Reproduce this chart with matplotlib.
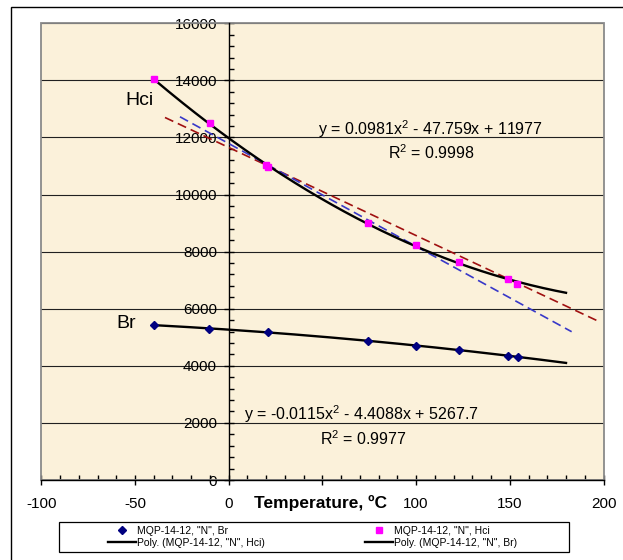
import numpy as np
import matplotlib
matplotlib.use("Agg")
import matplotlib.pyplot as plt
from matplotlib.patches import Rectangle
from matplotlib.lines import Line2D
from matplotlib.ticker import MultipleLocator

plt.rcParams['font.family'] = ['Liberation Sans', 'DejaVu Sans']
plt.rcParams['axes.unicode_minus'] = False
plt.rcParams['mathtext.fontset'] = 'custom'
plt.rcParams['mathtext.rm'] = 'Liberation Sans'
plt.rcParams['mathtext.it'] = 'Liberation Sans'
plt.rcParams['mathtext.default'] = 'regular'

# ---------------- data ----------------
temp_hci = [-40, -10, 20, 21, 74.5, 100, 123, 149, 154]
hci = [14045, 12490, 11040, 10960, 9000, 8250, 7640, 7030, 6870]

temp_br = [-40, -10.5, 21, 74.5, 100, 123, 149.3, 154.3]
br = [5420, 5280, 5170, 4870, 4705, 4545, 4355, 4320]

# polynomial trendline coefficients (from chart labels)
hci_poly = [0.0981, -47.759, 11977]
br_poly = [-0.0115, -4.4088, 5267.7]
fit_range = [-40, 180]

# dashed reference lines (end points)
red_x = [-34, 197]
red_y = [12700, 5570]
blue_x = [-26, 183]
blue_y = [12725, 5195]

x_ticks = [-100, -50, 0, 50, 100, 150, 200]
x_tick_labels = ['-100', '-50', '0', '', '100', '150', '200']
y_ticks = [0, 2000, 4000, 6000, 8000, 10000, 12000, 14000, 16000]
y_tick_labels = ['0', '2000', '4000', '6000', '8000', '10000', '12000', '14000', '16000']

eq_hci = r"y = 0.0981x$^{2}$ - 47.759x + 11977"
r2_hci = r"R$^{2}$ = 0.9998"
eq_br = r"y = -0.0115x$^{2}$ - 4.4088x + 5267.7"
r2_br = r"R$^{2}$ = 0.9977"

lbl_br = 'MQP-14-12, "N", Br'
lbl_hci = 'MQP-14-12, "N", Hci'
lbl_poly_hci = 'Poly. (MQP-14-12, "N", Hci)'
lbl_poly_br = 'Poly. (MQP-14-12, "N", Br)'

# ---------------- figure ----------------
W, H = 623, 560
fig = plt.figure(figsize=(W / 100, H / 100), dpi=100)
fig.patch.set_facecolor('white')

L, R, T, B = 41.3, 603.5, 23.3, 480.0
ax = fig.add_axes([L / W, 1 - B / H, (R - L) / W, (B - T) / H])
ax.set_facecolor('#FBF1DA')
ax.set_xlim(-100, 200)
ax.set_ylim(0, 16000)

ax.set_xticks(x_ticks)
ax.set_xticklabels(x_tick_labels)
ax.set_yticks(y_ticks)
ax.set_yticklabels(y_tick_labels)
ax.yaxis.set_minor_locator(MultipleLocator(400))
ax.xaxis.set_minor_locator(MultipleLocator(10))
ax.grid(True, axis='y', which='major', color='#202020', lw=0.8, zorder=1)
ax.set_axisbelow(True)

# spines
ax.spines['left'].set_position(('data', 0))
for s in ('left', 'bottom'):
    ax.spines[s].set_color('black')
    ax.spines[s].set_linewidth(1.0)
    ax.spines[s].set_zorder(3)
ax.spines['top'].set_visible(False)
ax.spines['right'].set_visible(False)
ax.add_patch(Rectangle((0, 0), 1, 1, transform=ax.transAxes, fill=False,
                       edgecolor='#8a8a8a', lw=1.3, zorder=2, clip_on=False))

ax.tick_params(axis='both', which='major', direction='inout', length=7, width=1,
               labelsize=11, color='black')
ax.tick_params(axis='both', which='minor', direction='in', length=3.5, width=1,
               color='black')
ax.tick_params(axis='y', which='major', pad=5.0)
ax.tick_params(axis='x', which='major', pad=8.5)

# dashed lines
ax.plot(red_x, red_y, color='#A01010', lw=1.2, ls=(0, (5.5, 3)), zorder=4)
ax.plot(blue_x, blue_y, color='#3838C8', lw=1.2, ls=(0, (5.5, 3)), zorder=4)

# trendlines
xf = np.linspace(fit_range[0], fit_range[1], 200)
ax.plot(xf, np.polyval(hci_poly, xf), color='black', lw=1.7, zorder=5)
ax.plot(xf, np.polyval(br_poly, xf), color='black', lw=1.7, zorder=5)

# data points
ax.plot(temp_hci, hci, ls='none', marker='s', ms=5, color='#FF00FF',
        mec='#FF00FF', zorder=6)
ax.plot(temp_br, br, ls='none', marker='D', ms=4, color='#000080',
        mec='#000080', zorder=6)

# annotations
ax.text(-47.5, 13300, 'Hci', fontsize=14, ha='center', va='center', zorder=7)
ax.text(-54.5, 5500, 'Br', fontsize=14, ha='center', va='center', zorder=7)
ax.text(107.9, 12300, eq_hci, fontsize=11.5, ha='center', va='center', zorder=7)
ax.text(108.2, 11480, r2_hci, fontsize=11.5, ha='center', va='center', zorder=7)
ax.text(71.1, 2290, eq_br, fontsize=11.5, ha='center', va='center', zorder=7)
ax.text(72.0, 1460, r2_br, fontsize=11.5, ha='center', va='center', zorder=7)

# x label
ax.set_xlabel('Temperature, \u00baC', fontsize=12.5, fontweight='bold')
ax.xaxis.set_label_coords((321 - L) / (R - L), (B - 503) / (B - T))
ax.xaxis.label.set_va('center')

# legend box
fig.add_artist(Rectangle((59.3 / W, 1 - 551.7 / H), (569.3 - 59.3) / W,
                         (551.7 - 522.3) / H, transform=fig.transFigure,
                         fill=True, facecolor='white', edgecolor='black', lw=0.9))

h_br = Line2D([], [], ls='none', marker='D', ms=4, color='#000080')
h_hci = Line2D([], [], ls='none', marker='s', ms=5, color='#FF00FF')
h_ph = Line2D([], [], color='black', lw=1.7)
h_pb = Line2D([], [], color='black', lw=1.7)

leg_kw = dict(frameon=False, fontsize=7.5, handlelength=2.7, handletextpad=0.1,
              labelspacing=0.2, borderpad=0, borderaxespad=0, loc='center left')
leg1 = fig.legend([h_br, h_ph], [lbl_br, lbl_poly_hci],
                  bbox_to_anchor=(108 / W, 1 - 537 / H), **leg_kw)
leg2 = fig.legend([h_hci, h_pb], [lbl_hci, lbl_poly_br],
                  bbox_to_anchor=(365 / W, 1 - 537 / H), **leg_kw)

# outer frame
fig.add_artist(Rectangle((11.3 / W, -0.2), 2.0, 1.2 - 6.7 / H,
                         transform=fig.transFigure, fill=False,
                         edgecolor='black', lw=1.0))

fig.savefig('out.png', dpi=100)
